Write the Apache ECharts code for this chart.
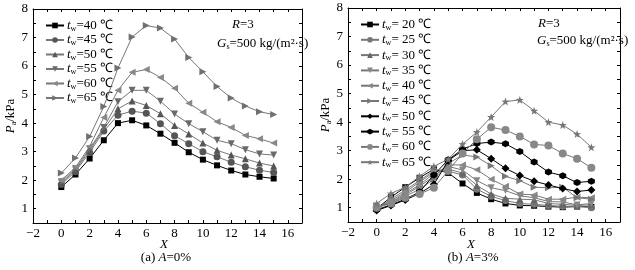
<!DOCTYPE html>
<html lang="en">
<head>
    <meta charset="UTF-8">
    <title>Pa vs X</title>
    <style>
        html, body { margin: 0; padding: 0; background: #fff; }
        #main { width: 635px; height: 270px; }
    </style>
    <script src="https://cdn.jsdelivr.net/npm/echarts@6/dist/echarts.min.js"></script>
</head>
<body>
<div id="main"></div>
<script>
    // X positions shared by all curves
    var xPos = [0, 1, 2, 3, 4, 5, 6, 7, 8, 9, 10, 11, 12, 13, 14, 15];

    // (a) A=0%
    var tempsA = [40, 45, 50, 55, 60, 65];
    var a40 = [1.76, 2.2, 2.76, 3.4, 4.0, 4.1, 3.92, 3.63, 3.31, 2.98, 2.72, 2.52, 2.34, 2.2, 2.12, 2.06];
    var a45 = [1.85, 2.3, 2.97, 3.72, 4.28, 4.42, 4.35, 3.98, 3.56, 3.28, 3.0, 2.82, 2.63, 2.47, 2.35, 2.27];
    var a50 = [1.9, 2.35, 3.05, 3.78, 4.5, 4.78, 4.62, 4.33, 3.92, 3.62, 3.3, 3.05, 2.88, 2.75, 2.6, 2.5];
    var a55 = [1.95, 2.4, 3.1, 3.85, 4.75, 5.15, 5.15, 4.77, 4.32, 3.98, 3.7, 3.4, 3.28, 3.07, 2.92, 2.88];
    var a60 = [2.0, 2.45, 3.18, 4.2, 5.15, 5.78, 5.88, 5.6, 5.22, 4.7, 4.38, 4.05, 3.85, 3.57, 3.45, 3.3];
    var a65 = [2.25, 2.78, 3.53, 4.58, 5.93, 7.02, 7.42, 7.33, 6.95, 6.3, 5.8, 5.28, 4.88, 4.6, 4.4, 4.3];

    // (b) A=3%
    var tempsB = [20, 25, 30, 35, 40, 45, 50, 55, 60, 65];
    var b20 = [0.97, 1.37, 1.72, 2.05, 2.35, 2.22, 1.85, 1.52, 1.3, 1.15, 1.08, 1.07, 1.04, 1.02, 1.04, 1.03];
    var b25 = [0.95, 1.3, 1.62, 1.95, 2.3, 2.28, 2.15, 1.65, 1.4, 1.25, 1.15, 1.12, 1.08, 1.05, 1.05, 1.0];
    var b30 = [0.98, 1.25, 1.55, 1.9, 2.25, 2.35, 2.22, 1.78, 1.48, 1.33, 1.3, 1.28, 1.15, 1.12, 1.08, 1.1];
    var b35 = [1.0, 1.2, 1.5, 1.8, 2.2, 2.45, 2.32, 1.95, 1.7, 1.6, 1.42, 1.35, 1.22, 1.2, 1.1, 1.15];
    var b40 = [1.02, 1.18, 1.45, 1.75, 2.1, 2.5, 2.5, 2.33, 2.0, 1.75, 1.48, 1.45, 1.3, 1.3, 1.37, 1.35];
    var b45 = [1.05, 1.15, 1.4, 1.65, 2.0, 2.55, 2.85, 2.78, 2.47, 2.1, 1.95, 1.72, 1.7, 1.72, 1.35, 1.3];
    var b50 = [0.9, 1.08, 1.27, 1.5, 1.82, 2.65, 3.0, 3.03, 2.72, 2.38, 2.13, 1.93, 1.8, 1.67, 1.57, 1.62];
    var b55 = [0.93, 1.1, 1.3, 1.55, 2.15, 2.68, 3.05, 3.25, 3.3, 3.24, 2.97, 2.6, 2.25, 2.12, 1.88, 1.93];
    var b60 = [1.0, 1.15, 1.35, 1.48, 1.7, 2.3, 2.9, 3.4, 3.82, 3.72, 3.5, 3.22, 3.18, 2.9, 2.72, 2.4];
    var b65 = [1.15, 1.5, 1.72, 2.1, 2.45, 2.7, 3.23, 3.65, 4.18, 4.72, 4.78, 4.4, 4.0, 3.9, 3.58, 3.12];

    var FONT = "Liberation Serif";
    var STAR = 'path://M0,-10L2.35,-3.24L9.51,-3.09L3.8,1.24L5.88,8.09L0,4L-5.88,8.09L-3.8,1.24L-9.51,-3.09L-2.35,-3.24Z';
    var HEX = 'path://M0,-10L8.66,-5L8.66,5L0,10L-8.66,5L-8.66,-5Z';

    // marker looks: [color, symbol, rotate, size]
    var looksA = [
        ['#000', 'rect', 0, 6],
        ['#555', 'circle', 0, 7],
        ['#555', 'triangle', 0, 7],
        ['#6a6a6a', 'triangle', 180, 7],
        ['#888', 'triangle', 90, 7],
        ['#707070', 'triangle', -90, 7]
    ];
    var looksB = [
        ['#000', 'rect', 0, 6],
        ['#777', 'circle', 0, 7],
        ['#666', 'triangle', 0, 7],
        ['#888', 'triangle', 180, 7],
        ['#888', 'triangle', 90, 7],
        ['#777', 'triangle', -90, 7],
        ['#000', 'diamond', 0, 8],
        ['#000', HEX, 0, 7],
        ['#888', 'circle', 0, 8],
        ['#777', STAR, 0, 8]
    ];

    function pairs(vals) {
        var out = [];
        for (var i = 0; i < xPos.length; i++) out.push([xPos[i], vals[i]]);
        return out;
    }

    var tickText = { color: '#000', fontFamily: FONT, fontSize: 13 };
    var richBase = {
        i: { fontFamily: FONT, fontSize: 13, fontStyle: 'italic', color: '#000' },
        s: { fontFamily: FONT, fontSize: 8, color: '#000', padding: [6, 0, 0, 0] },
        n: { fontFamily: FONT, fontSize: 13, color: '#000' }
    };

    function xAxes(g) {
        var base = {
            type: 'value', gridIndex: g, min: -2, max: 17, interval: 1,
            splitLine: { show: false },
            axisLine: { onZero: false, lineStyle: { color: '#000', width: 1 } },
            axisTick: { inside: true, length: 3, lineStyle: { color: '#000' } }
        };
        var bottom = Object.assign({}, base, {
            position: 'bottom',
            axisLabel: Object.assign({ margin: 4, formatter: function (v) {
                if (v % 2 !== 0 || v > 16) return '';
                return v < 0 ? '\u2212' + (-v) : String(v);
            } }, tickText)
        });
        var top = Object.assign({}, base, { position: 'top', axisLabel: { show: false } });
        return [bottom, top];
    }

    function yAxes(g) {
        var base = {
            type: 'value', gridIndex: g, min: 0.5, max: 8, interval: 0.5,
            splitLine: { show: false },
            axisLine: { onZero: false, lineStyle: { color: '#000', width: 1 } },
            axisTick: { inside: true, length: 3, lineStyle: { color: '#000' } }
        };
        var left = Object.assign({}, base, {
            position: 'left',
            name: '{i|P}{s|a}{n|/kPa}',
            nameLocation: 'middle', nameRotate: 90, nameGap: 14,
            nameTextStyle: { rich: richBase },
            axisLabel: Object.assign({ margin: 5, formatter: function (v) {
                return v % 1 === 0 ? String(v) : '';
            } }, tickText)
        });
        var right = Object.assign({}, base, { position: 'right', axisLabel: { show: false } });
        return [left, right];
    }

    var series = [];
    function addSeries(prefix, temps, arrs, looks, g) {
        for (var i = 0; i < temps.length; i++) {
            var lk = looks[i];
            series.push({
                name: prefix + temps[i],
                type: 'line',
                xAxisIndex: 2 * g, yAxisIndex: 2 * g,
                data: pairs(arrs[i]),
                symbol: lk[1], symbolRotate: lk[2], symbolSize: lk[3],
                showAllSymbol: true,
                lineStyle: { color: lk[0] === '#000' ? '#000' : '#777', width: 1 },
                itemStyle: { color: lk[0], borderWidth: 0 },
                z: 2 + i,
                animation: false
            });
        }
    }
    addSeries('a', tempsA, [a40, a45, a50, a55, a60, a65], looksA, 0);
    addSeries('b', tempsB, [b20, b25, b30, b35, b40, b45, b50, b55, b60, b65], looksB, 1);

    function legend(prefix, temps, left, top, spaced, gap) {
        return {
            orient: 'vertical', left: left, top: top,
            itemWidth: 18, itemHeight: 7, itemGap: gap,
            data: temps.map(function (t) { return prefix + t; }),
            formatter: function (name) {
                return '{i|t}{s|w}{n|=' + (spaced ? ' ' : '') + name.slice(1) + ' \u2103}';
            },
            textStyle: { rich: richBase, padding: [0, 0, 0, -2] },
            selectedMode: false
        };
    }

    function label(x, y, text, align) {
        return {
            type: 'text', x: x, y: y,
            style: {
                text: text, rich: richBase, align: align || 'left', verticalAlign: 'middle',
                fontFamily: FONT, fontSize: 13, fill: '#000'
            }
        };
    }

    var chart = echarts.init(document.getElementById('main'));
    chart.setOption({
        backgroundColor: '#fff',
        animation: false,
        grid: [
            { left: 33, right: 333, top: 9, bottom: 47 },
            { left: 348, right: 15, top: 8, bottom: 48 }
        ],
        xAxis: xAxes(0).concat(xAxes(1)),
        yAxis: yAxes(0).concat(yAxes(1)),
        legend: [
            legend('a', tempsA, 40, 14, false, 1),
            legend('b', tempsB, 355, 13, true, 1.8)
        ],
        graphic: [
            label(232, 25, '{i|R}{n|=3}'),
            label(217, 44, '{i|G}{s|s}{n|=500 kg/(m\u00b2\u00b7s)}'),
            label(538, 24, '{i|R}{n|=3}'),
            label(537, 41, '{i|G}{s|s}{n|=500 kg/(m\u00b2\u00b7s)}'),
            label(164, 245, '{i|X}', 'center'),
            label(166, 258, '{n|(a) }{i|A}{n|=0%}', 'center'),
            label(471, 245, '{i|X}', 'center'),
            label(473, 258, '{n|(b) }{i|A}{n|=3%}', 'center')
        ],
        series: series
    });
</script>
</body>
</html>
